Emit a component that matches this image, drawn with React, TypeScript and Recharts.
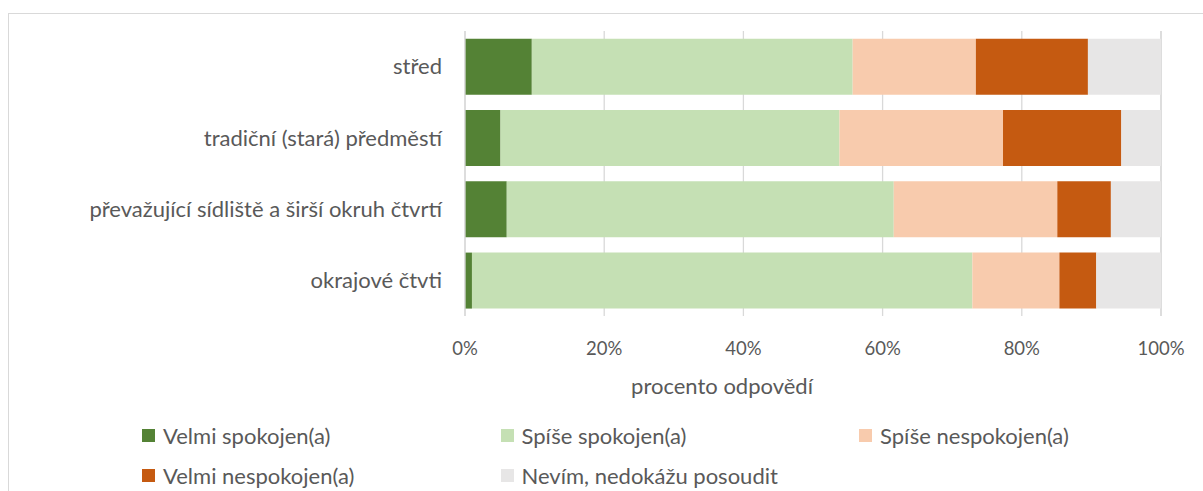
import { Bar, BarChart, CartesianGrid, Legend, XAxis, YAxis } from "recharts";

const categories = [
  "střed",
  "tradiční (stará) předměstí",
  "převažující sídliště a širší okruh čtvrtí",
  "okrajové čtvti",
];

// percent of answers per category (top to bottom)
const velmiSpokojen = [9.6, 5.1, 6.0, 1.0];
const spiseSpokojen = [46.1, 48.7, 55.6, 71.9];
const spiseNespokojen = [17.7, 23.5, 23.5, 12.5];
const velmiNespokojen = [16.1, 17.0, 7.7, 5.3];
const nevim = [10.5, 5.7, 7.2, 9.3];

const xTicks = [0, 20, 40, 60, 80, 100];

const SERIES = [
  { key: "vs", name: "Velmi spokojen(a)", values: velmiSpokojen, color: "#548235" },
  { key: "ss", name: "Spíše spokojen(a)", values: spiseSpokojen, color: "#C5E0B4" },
  { key: "sn", name: "Spíše nespokojen(a)", values: spiseNespokojen, color: "#F8CBAD" },
  { key: "vn", name: "Velmi nespokojen(a)", values: velmiNespokojen, color: "#C55A11" },
  { key: "nv", name: "Nevím, nedokážu posoudit", values: nevim, color: "#E7E6E6" },
];

const data = categories.map((name, i) => {
  const row: Record<string, string | number> = { name };
  SERIES.forEach((s) => (row[s.key] = s.values[i]));
  return row;
});

const FONT = "Lato, sans-serif";
const FS = 22; // labels, legend, axis title
const TICK_FS = 18.5; // Lato digits run wide, keep the % ticks narrower
const TEXT = "#595959";
const GRID = "#D9D9D9";

function LegendGrid() {
  return (
    <div style={{ position: "relative", width: 1203, height: 80 }}>
      {SERIES.map((s, i) => (
        <div
          key={s.key}
          style={{
            position: "absolute",
            left: 142 + (i % 3) * 358.5,
            top: Math.floor(i / 3) * 40,
            display: "flex",
            alignItems: "center",
            height: 20,
            fontFamily: FONT,
            fontSize: FS,
            color: TEXT,
            whiteSpace: "nowrap",
          }}
        >
          <span
            style={{
              display: "inline-block",
              width: 13,
              height: 13,
              background: s.color,
              marginRight: 8,
            }}
          />
          {s.name}
        </div>
      ))}
    </div>
  );
}

export default function App() {
  return (
    <div style={{ position: "relative", width: 1203, height: 491, overflow: "hidden", background: "#fff" }}>
      <style>{`body{margin:0}`}</style>
      <div
        style={{
          position: "absolute",
          left: 8,
          top: 13,
          width: 1220,
          height: 520,
          border: `1px solid ${GRID}`,
        }}
      />
      <BarChart
        width={1203}
        height={491}
        data={data}
        layout="vertical"
        margin={{ top: 31, right: 42, bottom: 0, left: 0 }}
        barCategoryGap="11%"
        style={{ position: "absolute", left: 0, top: 0 }}
      >
        <CartesianGrid horizontal={false} stroke={GRID} strokeWidth={1.3} />
        <XAxis
          type="number"
          domain={[0, 100]}
          ticks={xTicks}
          tickFormatter={(v: number) => `${v}%`}
          axisLine={false}
          tickLine={false}
          tickSize={0}
          tickMargin={26}
          height={95}
          tick={{ fill: TEXT, fontSize: TICK_FS, fontFamily: FONT }}
          label={{
            value: "procento odpovědí",
            position: "insideTop",
            offset: 62,
            dx: -91,
            fill: TEXT,
            fontSize: FS,
            fontFamily: FONT,
          }}
        />
        <YAxis
          type="category"
          dataKey="name"
          width={465}
          axisLine={{ stroke: GRID, strokeWidth: 1.3 }}
          tickLine={false}
          tickSize={0}
          tickMargin={23}
          tick={{ fill: TEXT, fontSize: FS, fontFamily: FONT }}
        />
        <Legend
          content={() => <LegendGrid />}
          wrapperStyle={{ position: "absolute", left: 0, top: 425, width: 1203, height: 80 }}
        />
        {SERIES.map((s) => (
          <Bar
            key={s.key}
            dataKey={s.key}
            name={s.name}
            stackId="a"
            fill={s.color}
            isAnimationActive={false}
          />
        ))}
      </BarChart>
    </div>
  );
}
